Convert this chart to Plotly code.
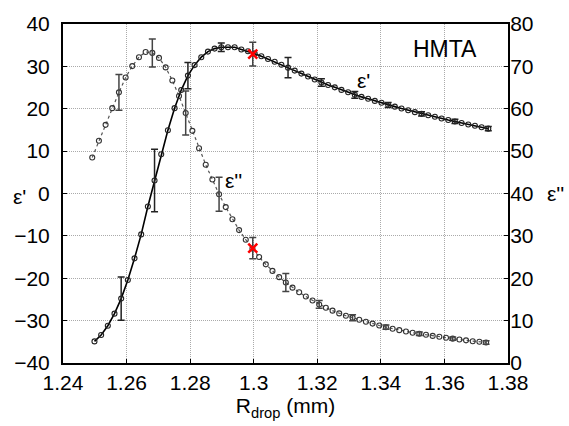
import plotly.graph_objects as go

# ---- data ----
x_real = [1.2499, 1.2520, 1.2541, 1.2562, 1.2583, 1.2604, 1.2625, 1.2646, 1.2667, 1.2688,
          1.2709, 1.2730, 1.2751, 1.2772, 1.2793, 1.2814, 1.2835, 1.2856, 1.2877, 1.2898,
          1.2919, 1.2940, 1.2961, 1.2982, 1.3003, 1.3024, 1.3045, 1.3066, 1.3087, 1.3108,
          1.3129, 1.3150, 1.3171, 1.3192, 1.3213, 1.3234, 1.3255, 1.3276, 1.3297, 1.3318,
          1.3339, 1.3360, 1.3381, 1.3402, 1.3423, 1.3444, 1.3465, 1.3486, 1.3507, 1.3528,
          1.3549, 1.3570, 1.3591, 1.3612, 1.3633, 1.3654, 1.3675, 1.3696, 1.3717, 1.3738]
eps_real = [-34.9, -33.4, -31.2, -28.35, -24.8, -20.4, -15.3, -9.65, -3.06, 3.07,
            9.28, 14.94, 20.14, 24.41, 27.82, 30.3, 32.17, 33.49, 34.19, 34.5,
            34.52, 34.5, 34.0, 33.56, 33.0, 32.4, 31.75, 31.1, 30.4, 29.7,
            29.0, 28.3, 27.6, 26.9, 26.2, 25.6, 25.05, 24.45, 23.9, 23.3,
            22.8, 22.35, 21.85, 21.4, 20.9, 20.5, 20.05, 19.65, 19.2, 18.8,
            18.45, 18.1, 17.7, 17.35, 17.0, 16.65, 16.3, 16.0, 15.65, 15.3]

x_imag = [1.2492, 1.2513, 1.2534, 1.2555, 1.2576, 1.2597, 1.2618, 1.2639, 1.2660, 1.2681,
          1.2702, 1.2723, 1.2744, 1.2765, 1.2786, 1.2807, 1.2828, 1.2849, 1.2870, 1.2891,
          1.2912, 1.2933, 1.2954, 1.2975, 1.2996, 1.3017, 1.3038, 1.3059, 1.3080, 1.3101,
          1.3122, 1.3143, 1.3164, 1.3185, 1.3206, 1.3227, 1.3248, 1.3269, 1.3290, 1.3311,
          1.3332, 1.3353, 1.3374, 1.3395, 1.3416, 1.3437, 1.3458, 1.3479, 1.3500, 1.3521,
          1.3542, 1.3563, 1.3584, 1.3605, 1.3626, 1.3647, 1.3668, 1.3689, 1.3710, 1.3731]
eps_imag = [48.5, 52.46, 56.2, 60.14, 63.87, 67.36, 70.07, 72.17, 73.41, 73.18,
            72.0, 69.76, 66.66, 63.0, 58.98, 54.79, 50.68, 46.8, 43.3, 39.81,
            36.79, 33.92, 31.36, 29.1, 27.0, 25.0, 23.28, 21.73, 20.26, 19.0,
            17.78, 16.69, 15.68, 14.75, 13.82, 13.05, 12.35, 11.7, 11.15, 10.7,
            10.2, 9.75, 9.3, 8.85, 8.45, 8.1, 7.75, 7.45, 7.15, 6.9,
            6.65, 6.4, 6.2, 5.95, 5.75, 5.55, 5.35, 5.15, 5.0, 4.85]

# error bars at selected points (index: half-width)
err_idx = [4, 9, 14, 19, 29, 34, 39, 44, 49, 54, 59]
err_real = [5.1, 7.4, 3.1, 1.0, 2.4, 0.9, 0.8, 0.6, 0.5, 0.5, 0.5]
err_imag = [4.2, 3.3, 5.2, 4.0, 2.1, 0.9, 0.7, 0.5, 0.4, 0.4, 0.4]

# highlighted point at R = 1.3 mm
mark_x = [1.2997]
mark_real = [32.9]
mark_real_err = [2.8]
mark_imag = [27.1]
mark_imag_err = [2.5]

x_ticks = [1.24, 1.26, 1.28, 1.30, 1.32, 1.34, 1.36, 1.38]
x_ticktext = ["1.24", "1.26", "1.28", "1.3", "1.32", "1.34", "1.36", "1.38"]
y1_ticks = [-40, -30, -20, -10, 0, 10, 20, 30, 40]
y2_ticks = [0, 10, 20, 30, 40, 50, 60, 70, 80]

FONT = "Liberation Sans, Arial, sans-serif"

fig = go.Figure()

# epsilon'' (dotted, right axis)
fig.add_trace(go.Scatter(
    x=x_imag, y=eps_imag, mode="lines+markers", yaxis="y2",
    line=dict(color="#555555", width=1.2, dash="dot"),
    marker=dict(symbol="circle-open", size=5, color="#333333", line=dict(width=1.1)),
    showlegend=False))
fig.add_trace(go.Scatter(
    x=[x_imag[i] for i in err_idx], y=[eps_imag[i] for i in err_idx],
    mode="markers", yaxis="y2", marker=dict(size=1, color="rgba(0,0,0,0)"),
    error_y=dict(type="data", array=err_imag, color="#444444", thickness=1.5, width=3.5),
    showlegend=False))

# epsilon' (solid, left axis)
fig.add_trace(go.Scatter(
    x=x_real, y=eps_real, mode="lines+markers",
    line=dict(color="black", width=1.6),
    marker=dict(symbol="circle-open", size=5, color="#222222", line=dict(width=1.1)),
    showlegend=False))
fig.add_trace(go.Scatter(
    x=[x_real[i] for i in err_idx], y=[eps_real[i] for i in err_idx],
    mode="markers", marker=dict(size=1, color="rgba(0,0,0,0)"),
    error_y=dict(type="data", array=err_real, color="#222222", thickness=1.5, width=3.5),
    showlegend=False))

# red marks at 1.3 mm
fig.add_trace(go.Scatter(
    x=mark_x, y=mark_real, mode="markers",
    marker=dict(symbol="x-thin", size=9, color="red", line=dict(width=2.5, color="red")),
    error_y=dict(type="data", array=mark_real_err, color="#444444", thickness=1.5, width=3.5),
    showlegend=False))
fig.add_trace(go.Scatter(
    x=mark_x, y=mark_imag, mode="markers", yaxis="y2",
    marker=dict(symbol="x-thin", size=9, color="red", line=dict(width=2.5, color="red")),
    error_y=dict(type="data", array=mark_imag_err, color="#444444", thickness=1.5, width=3.5),
    showlegend=False))

axis_common = dict(showline=True, linecolor="black", linewidth=2, ticks="inside",
                   ticklen=4, tickcolor="black", tickwidth=1,
                   tickfont=dict(family=FONT, size=21, color="black"), zeroline=False)

fig.update_layout(
    width=569, height=426,
    margin=dict(l=63, r=61, t=19, b=63),
    paper_bgcolor="white", plot_bgcolor="white",
    font=dict(family=FONT, size=21, color="black"),
    xaxis=dict(range=[1.24, 1.38], tickvals=x_ticks, ticktext=x_ticktext, mirror=True,
               showgrid=True, gridcolor="#aaaaaa", griddash="1px,1px", gridwidth=1,
               title=dict(text="R<sub>drop</sub> (mm)", font=dict(family=FONT, size=21), standoff=2),
               **axis_common),
    yaxis=dict(range=[-40, 40], tickvals=y1_ticks, mirror=True,
               showgrid=True, gridcolor="#aaaaaa", griddash="1px,1px", gridwidth=1,
               ticklabelstandoff=7, **axis_common),
    yaxis2=dict(range=[0, 80], tickvals=y2_ticks, overlaying="y", side="right",
                showgrid=False, ticklabelstandoff=-4, **axis_common),
    annotations=[
        dict(text="HMTA", xref="paper", yref="paper", x=0.858, y=0.927,
             xanchor="center", yanchor="middle", showarrow=False,
             font=dict(family=FONT, size=23)),
        dict(text="ε'", xref="x", yref="y", x=1.3344, y=26.7, showarrow=False,
             xanchor="center", yanchor="middle", font=dict(family=FONT, size=21)),
        dict(text="ε''", xref="x", yref="y", x=1.2935, y=3.0, showarrow=False,
             xanchor="center", yanchor="middle", font=dict(family=FONT, size=21)),
        dict(text="ε'", xref="paper", yref="paper", x=-0.097, y=0.49, showarrow=False,
             xanchor="center", yanchor="middle", font=dict(family=FONT, size=21)),
        dict(text="ε''", xref="paper", yref="paper", x=1.083, xanchor="left", y=0.5,
             yanchor="middle", showarrow=False, font=dict(family=FONT, size=21)),
    ],
)

fig.write_html("out.html")
